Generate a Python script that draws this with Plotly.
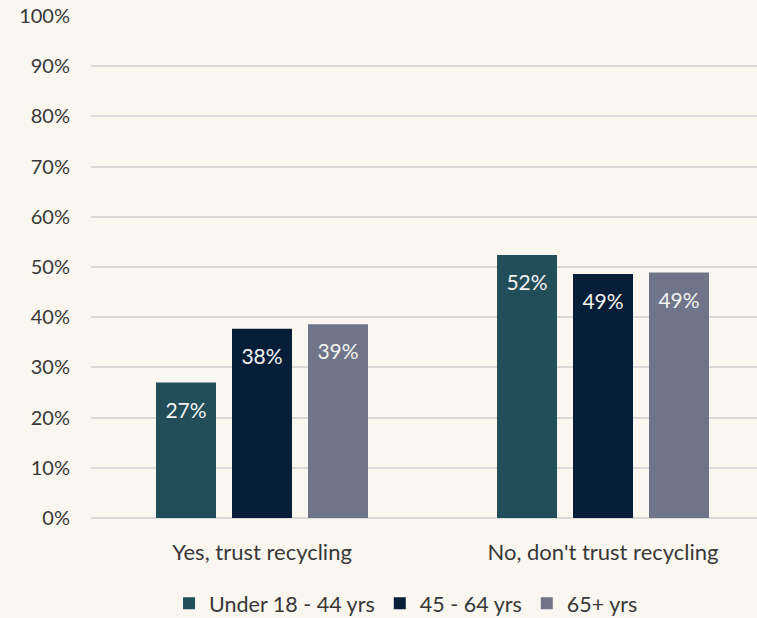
import plotly.graph_objects as go

categories = ["Yes, trust recycling", "No, don't trust recycling"]
series_names = ["Under 18 - 44 yrs", "45 - 64 yrs", "65+ yrs"]
under_44 = [0.270, 0.524]
age_45_64 = [0.377, 0.486]
age_65_plus = [0.386, 0.489]
y_ticks = [0, 0.1, 0.2, 0.3, 0.4, 0.5, 0.6, 0.7, 0.8, 0.9, 1.0]

colors = ["#224E5A", "#061E38", "#707488"]
FONT = "Lato"
TXT = "#383838"
BG = "#FAF7F0"
LABEL_DROP = 0.022  # visual offset of value labels below bar tops

fig = go.Figure()
for i, (name, vals, col) in enumerate(zip(series_names, [under_44, age_45_64, age_65_plus], colors)):
    fig.add_trace(go.Bar(
        name=name, x=categories, y=vals, offsetgroup=str(i),
        marker=dict(color=col, line=dict(width=0)), hoverinfo="skip",
    ))
for i, vals in enumerate([under_44, age_45_64, age_65_plus]):
    fig.add_trace(go.Bar(
        x=categories, y=[v - LABEL_DROP for v in vals], offsetgroup=str(i),
        text=[f"{v:.0%}" for v in vals], texttemplate="%{text}",
        textposition="inside", insidetextanchor="end", constraintext="none",
        textfont=dict(family=FONT, size=21, color="#F2F2F2"),
        marker=dict(color="rgba(0,0,0,0)", line=dict(width=0)),
        showlegend=False, hoverinfo="skip",
    ))

fig.update_layout(
    width=757, height=618,
    paper_bgcolor=BG, plot_bgcolor=BG,
    margin=dict(l=91, r=0, t=16, b=100, autoexpand=False),
    barmode="group", bargap=0.3314, bargroupgap=0.2105,
    font=dict(family=FONT, size=20, color=TXT),
    showlegend=True,
    legend=dict(orientation="h", x=0.473, xanchor="center", y=-0.1288, yanchor="top",
                font=dict(family=FONT, size=21.5, color=TXT), bgcolor="rgba(0,0,0,0)",
                itemwidth=30, traceorder="normal"),
    xaxis=dict(type="category", range=[-0.5015, 1.4516], showgrid=False, showline=False,
               zeroline=False, ticks="", ticklabelstandoff=19, automargin=False,
               tickfont=dict(family=FONT, size=22, color=TXT)),
    yaxis=dict(range=[0, 1.0], tickvals=y_ticks, tickformat=".0%", showgrid=True,
               gridcolor="#D9D9D9", gridwidth=2, zeroline=True, zerolinecolor="#D9D9D9",
               zerolinewidth=2, showline=False, ticks="", ticklabelstandoff=20, automargin=False,
               tickfont=dict(family=FONT, size=20, color=TXT)),
)

fig.write_html("out.html", config={"displayModeBar": False},
               post_script="document.body.style.margin='0';document.body.style.overflow='hidden';")
